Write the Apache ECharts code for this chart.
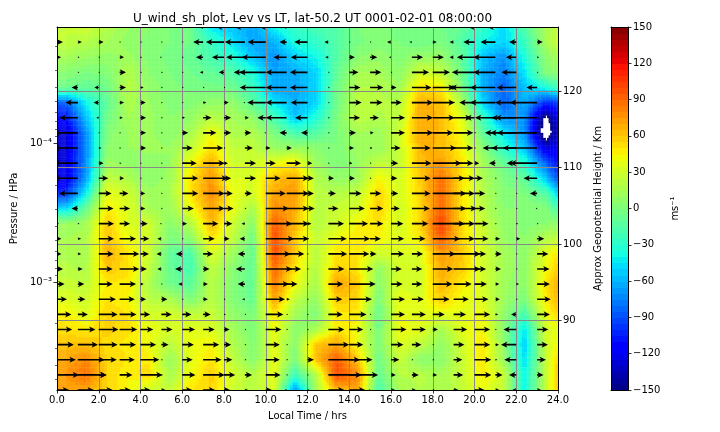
<!DOCTYPE html>
<html><head><meta charset="utf-8">
<style>html,body{margin:0;padding:0;background:#fff}#c{width:720px;height:432px}</style>
<script src="https://cdn.jsdelivr.net/npm/echarts@6/dist/echarts.min.js"></script>
</head><body><div id="c"></div>
<script>
const arrowHours = [0,1,2,3,4,5,6,7,8,9,10,11,12,13,14,15,16,17,18,19,20,21,22,23];
const shadeHours = [0,0.4,1.4,2.4,3.4,4.4,5.4,6.4,7.4,8.4,9.4,10.4,11.4,12.4,13.4,14.4,15.4,16.4,17.4,18.4,19.4,20.4,21.4,22.4,23.4,24];
const pressureLevels = [1.464e-5,1.880e-5,2.416e-5,3.105e-5,3.989e-5,5.124e-5,6.584e-5,8.459e-5,1.087e-4,1.397e-4,1.795e-4,2.306e-4,2.963e-4,3.807e-4,4.891e-4,6.285e-4,8.075e-4,1.037e-3,1.333e-3,1.713e-3,2.200e-3,2.827e-3,3.632e-3,4.667e-3,5.996e-3];
const majorPressureTicks = [1e-4,1e-3];
const minorPressureTicks = [2e-5,3e-5,4e-5,5e-5,6e-5,7e-5,8e-5,9e-5,2e-4,3e-4,4e-4,5e-4,6e-4,7e-4,8e-4,9e-4,2e-3,3e-3,4e-3,5e-3];
const heightTicks = [120,110,100,90];
const heightTickPressures = [4.25e-5,1.49e-4,5.36e-4,1.89e-3];
const colourbarLevels = [-150,-145,-140,-135,-130,-125,-120,-115,-110,-105,-100,-95,-90,-85,-80,-75,-70,-65,-60,-55,-50,-45,-40,-35,-30,-25,-20,-15,-10,-5,0,5,10,15,20,25,30,35,40,45,50,55,60,65,70,75,80,85,90,95,100,105,110,115,120,125,130,135,140,145];
// shaded zonal wind (m/s), one row per pressure level, one entry per shadeHours node after the left edge
const shadedWind = [
[25,30,20,10,5,0,-5,-45,-55,-65,-40,-25,-20,-15,0,5,-5,0,-5,-10,-25,-50,-15,15,25],
[25,20,15,8,3,0,-5,-25,-45,-65,-60,-35,-28,-15,-2,3,0,-5,0,-15,-40,-50,-25,15,28],
[15,10,8,12,3,-2,-8,-20,-32,-55,-70,-50,-40,-15,5,8,3,10,10,-10,-55,-70,-35,5,15],
[5,0,2,20,5,0,-5,-10,-15,-35,-65,-62,-50,-10,15,15,5,30,25,-5,-60,-75,-45,3,5],
[-5,-10,-5,22,8,2,-2,-3,-5,-25,-65,-65,-50,-5,20,20,12,52,48,0,-60,-85,-55,-35,-20],
[-85,-40,-10,18,10,3,3,8,8,-12,-45,-60,-50,-5,25,22,20,68,62,18,-50,-85,-60,-100,-95],
[-110,-55,-5,15,12,5,8,22,15,8,-20,-55,-35,0,25,18,25,70,64,38,-25,-70,-70,-158,-120],
[-130,-70,3,10,12,5,15,42,18,18,0,-20,-15,0,15,12,28,70,64,42,-10,-45,-70,-172,-125],
[-130,-70,5,10,12,10,25,52,25,25,10,12,5,0,12,10,28,66,64,45,5,-30,-55,-125,-120],
[-125,-70,12,8,5,10,42,68,30,30,42,45,12,0,10,25,25,62,75,50,15,-8,-30,-85,-110],
[-125,-65,25,18,5,12,50,75,35,35,60,70,20,8,12,45,32,58,88,52,18,0,-10,-55,-90],
[-100,-40,40,30,12,15,50,80,40,32,72,75,22,20,25,55,32,55,90,50,20,3,0,-15,-50],
[-50,-8,48,35,15,12,40,72,40,15,78,70,22,28,32,58,30,52,92,52,22,5,5,3,-20],
[10,15,58,35,30,5,20,65,30,5,95,65,20,30,45,50,32,55,105,52,28,8,3,5,8],
[15,18,62,40,32,0,5,50,25,-5,100,60,25,42,50,45,35,48,95,55,30,10,5,20,25],
[18,15,68,50,30,-10,-18,35,12,-8,100,58,22,50,50,30,35,35,75,60,32,15,5,38,50],
[22,18,60,52,25,-8,-20,25,5,-10,90,50,18,58,50,8,32,32,70,58,30,15,5,42,58],
[28,25,48,48,18,-5,-12,22,3,-10,85,42,15,72,60,5,35,30,65,48,32,12,5,50,68],
[35,30,50,45,22,18,0,22,3,-8,72,25,8,60,55,0,38,35,58,42,35,12,0,48,65],
[48,35,55,50,32,32,25,28,8,0,50,15,0,48,48,-8,40,38,38,38,42,8,-20,40,55],
[52,48,58,52,40,32,38,35,15,0,42,5,15,50,42,-3,42,38,15,38,45,5,-45,30,40],
[62,62,52,48,42,22,40,45,20,3,40,3,60,70,42,0,35,25,8,30,50,8,-52,30,45],
[70,80,55,50,48,10,38,50,25,3,40,0,62,95,60,-5,28,5,5,28,50,10,-48,25,55],
[75,88,55,45,55,15,42,58,32,20,40,-25,20,100,80,-8,20,22,15,28,48,28,-40,25,60],
[70,70,55,45,30,25,50,55,30,20,35,-70,15,65,70,-20,15,20,15,25,40,25,-40,25,60]
];
// wind drawn as arrows (m/s), one row per pressure level, one entry per arrowHours node
const arrowWind = [
[5,3,3,2,2,1,1,-10,-20,-25,-15,-10,-5,-2,1,2,1,1,-2,-8,-15,-20,-5,5],
[15,10,12,2,4,3,1,-25,-45,-50,-45,-18,-33,-10,2,1,-10,-6,10,-10,-28,-37,-18,14],
[10,4,3,11,4,-3,0,-18,-30,-47,-60,-33,-42,-8,14,18,-5,28,28,-10,-44,-55,-26,5],
[0,2,2,16,4,4,0,-8,-13,-28,-66,-52,-44,3,23,28,2,43,43,-3,-56,-55,-37,2],
[-5,-16,-11,16,8,3,1,1,1,-3,-65,-52,-44,2,28,33,14,49,55,-13,-60,-63,-49,-27],
[-60,-31,-13,11,13,2,3,8,12,-3,-46,-52,-42,1,31,31,27,53,55,2,-38,-63,-53,-68],
[-80,-46,-6,8,14,3,7,21,18,10,-21,-52,-31,2,27,22,35,53,55,45,-23,-51,-62,-105],
[-100,-62,1,2,14,1,15,33,18,16,-1,-18,-16,1,17,9,35,53,51,49,4,-26,-65,-100],
[-90,-62,7,3,14,3,26,50,1,20,12,13,2,1,12,6,24,47,59,49,3,-32,-62,-86],
[-85,-62,12,5,1,0,36,54,10,28,25,36,12,1,8,2,18,49,72,49,12,-16,-24,-68],
[-85,-62,24,11,2,0,40,62,18,28,37,56,16,14,14,3,16,47,80,53,21,1,0,-34],
[-65,-47,32,22,12,0,40,54,22,18,50,56,16,19,31,28,18,47,84,53,27,1,2,-18],
[-25,-16,37,26,12,1,29,54,24,1,58,56,18,25,39,33,22,45,84,58,27,1,0,-2],
[5,4,38,26,18,-2,12,38,21,-8,66,56,10,39,47,33,31,41,80,53,35,3,5,2],
[11,8,38,41,22,-10,0,29,14,-13,71,56,2,46,52,27,33,34,69,53,35,12,10,18],
[11,8,37,49,21,-12,-16,25,5,-18,62,44,2,47,50,16,33,28,57,67,29,16,0,28],
[15,12,35,49,16,-10,-18,16,1,-23,66,36,1,40,60,2,27,26,51,67,29,14,3,31],
[19,16,35,41,8,1,-10,12,1,-18,58,27,1,37,66,1,29,26,49,45,31,10,7,32],
[25,19,43,38,14,15,1,12,1,-7,48,8,1,35,56,1,35,30,42,38,35,11,2,34],
[36,25,47,42,24,26,23,19,5,1,44,2,1,36,43,1,35,35,30,31,39,7,-13,32],
[38,44,49,44,32,28,32,29,14,1,39,1,1,40,35,1,39,35,13,34,39,1,-32,28],
[42,50,47,41,39,18,29,40,18,1,35,1,3,52,35,2,31,24,1,27,39,9,-38,27],
[47,67,45,38,47,2,26,46,21,1,35,1,16,79,58,0,21,1,1,22,42,5,-30,22],
[55,71,20,32,55,0,33,54,28,18,37,3,1,83,72,0,12,17,11,24,42,18,-18,16],
[30,40,35,28,25,10,25,30,15,8,15,-5,5,40,40,-3,10,10,5,12,25,10,-10,10]
];

function ramp(t,pts){
  for(let i=1;i<pts.length;i++){ if(t<=pts[i][0]){ const a=pts[i-1],b=pts[i]; return a[1]+(b[1]-a[1])*(t-a[0])/(b[0]-a[0]); } }
  return pts[pts.length-1][1];
}
const JET_R=[[0,0],[0.35,0],[0.66,1],[0.89,1],[1,0.5]];
const JET_G=[[0,0],[0.125,0],[0.375,1],[0.64,1],[0.91,0],[1,0]];
const JET_B=[[0,0.5],[0.11,1],[0.34,1],[0.65,0],[1,0]];
function jet(v){
  const t=(v+150)/300;
  return 'rgb('+Math.round(ramp(t,JET_R)*255)+','+Math.round(ramp(t,JET_G)*255)+','+Math.round(ramp(t,JET_B)*255)+')';
}
function bandColour(v){ return jet(Math.floor(v/5)*5+2.5); }

// the left edge repeats the first column so shading reaches the axis
const shadeAt=(r,k)=>shadedWind[r][k===0?0:k-1];
const heatCells=[];
for(let r=0;r<pressureLevels.length-1;r++)for(let k=0;k<shadeHours.length-1;k++){
  heatCells.push([shadeHours[k],pressureLevels[r],shadeHours[k+1],pressureLevels[r+1],shadeAt(r,k),shadeAt(r,k+1),shadeAt(r+1,k),shadeAt(r+1,k+1)]);
}
const arrowItems=[];
for(let r=0;r<pressureLevels.length;r++)for(let c=0;c<arrowHours.length;c++)arrowItems.push([arrowHours[c],pressureLevels[r],arrowWind[r][c]]);
const colourbarItems=colourbarLevels.map(l=>[0,l,1,l+5]);

function renderHeat(params,api){
  const a=api.coord([api.value(0),api.value(1)]),b=api.coord([api.value(2),api.value(3)]);
  const v00=api.value(4),v10=api.value(5),v01=api.value(6),v11=api.value(7);
  const NX=8,NY=6,children=[];
  for(let i=0;i<NX;i++)for(let j=0;j<NY;j++){
    const fx=(i+0.5)/NX,fy=(j+0.5)/NY;
    const v=(v00*(1-fx)+v10*fx)*(1-fy)+(v01*(1-fx)+v11*fx)*fy;
    if(v<-150)continue;
    const x0=a[0]+(b[0]-a[0])*i/NX,x1=a[0]+(b[0]-a[0])*(i+1)/NX;
    const y0=a[1]+(b[1]-a[1])*j/NY,y1=a[1]+(b[1]-a[1])*(j+1)/NY;
    children.push({type:'rect',shape:{x:x0,y:y0,width:x1-x0+0.4,height:y1-y0+0.4},style:{fill:bandColour(v)},silent:true});
  }
  return {type:'group',children:children};
}
const HOUR_PER_MS=1/52;
function renderArrow(params,api){
  const u=api.value(2),h=api.value(0),p=api.value(1);
  const t=api.coord([h,p]),e=api.coord([h+u*HOUR_PER_MS,p]);
  const y=t[1],dir=u>=0?1:-1;
  let L=Math.abs(e[0]-t[0]);
  if(L<1.4)L=1.4;
  const tip=t[0]+dir*L;
  const s=Math.min(1,Math.max(L/6.4,0.3));
  const hl=Math.min(6.4,L),hw=3.1*s,th=0.85*Math.max(s,0.6);
  const neck=tip-dir*hl*0.8;
  const pts=[[t[0],y-th],[neck,y-th],[tip-dir*hl,y-hw],[tip,y],[tip-dir*hl,y+hw],[neck,y+th],[t[0],y+th]];
  return {type:'polygon',shape:{points:pts},style:{fill:'#000'},silent:true};
}
function renderBand(params,api){
  const a=api.coord([api.value(0),api.value(3)]),b=api.coord([api.value(2),api.value(1)]);
  return {type:'rect',shape:{x:a[0],y:Math.floor(a[1]),width:b[0]-a[0],height:Math.ceil(b[1])-Math.floor(a[1])},style:{fill:jet(api.value(1)+2.5)},silent:true};
}
const FONT='"DejaVu Sans"';
const lab={color:'#000',fontFamily:FONT,fontSize:10};
const axLine={show:true,onZero:false,lineStyle:{color:'#000',width:1}};
const tick={show:true,length:3.5,lineStyle:{color:'#000',width:0.8}};
const GRIDLINE={color:'#888888',width:1};
const PMIN=pressureLevels[0],PMAX=pressureLevels[pressureLevels.length-1];
const chart=echarts.init(document.getElementById('c'),null,{renderer:'canvas'});
chart.setOption({
  animation:false,backgroundColor:'#fff',
  title:{text:'U_wind_sh_plot, Lev vs LT, lat-50.2 UT 0001-02-01 08:00:00',left:307.5,top:8,textAlign:'center',
    textStyle:{fontFamily:FONT,fontSize:12,fontWeight:'normal',color:'#000'}},
  grid:[{left:57,right:162,top:27,bottom:42,outerBoundsMode:'none'},{left:611,right:92,top:27,bottom:42,outerBoundsMode:'none'}],
  xAxis:[
    {gridIndex:0,type:'value',min:0,max:24,interval:2,z:3,position:'bottom',
     name:'Local Time / hrs',nameLocation:'middle',nameGap:21,nameTextStyle:lab,
     axisLine:axLine,axisTick:tick,axisLabel:Object.assign({margin:5,formatter:v=>v.toFixed(1)},lab),
     splitLine:{show:true,lineStyle:GRIDLINE}},
    {gridIndex:0,type:'value',min:0,max:24,z:4,position:'top',axisLine:axLine,axisTick:{show:false},axisLabel:{show:false},splitLine:{show:false}},
    {gridIndex:1,type:'value',min:0,max:1,z:4,position:'bottom',axisLine:axLine,axisTick:{show:false},axisLabel:{show:false},splitLine:{show:false}},
    {gridIndex:1,type:'value',min:0,max:1,z:4,position:'top',axisLine:axLine,axisTick:{show:false},axisLabel:{show:false},splitLine:{show:false}}
  ],
  yAxis:[
    {gridIndex:0,type:'log',logBase:10,min:PMIN,max:PMAX,inverse:true,position:'left',z:4,
     name:'Pressure / HPa',nameLocation:'middle',nameGap:37,nameTextStyle:lab,
     axisLine:axLine,axisTick:Object.assign({customValues:majorPressureTicks},tick),
     axisLabel:Object.assign({customValues:majorPressureTicks,margin:5,formatter:v=>v<5e-4?'10\u207B\u2074':'10\u207B\u00B3'},lab),
     splitLine:{show:false}},
    {gridIndex:0,type:'log',logBase:10,min:PMIN,max:PMAX,inverse:true,position:'right',z:3,
     name:'Approx Geopotential Height / Km',nameLocation:'middle',nameGap:28,nameRotate:90,nameTextStyle:lab,
     axisLine:axLine,axisTick:Object.assign({customValues:heightTickPressures},tick),
     axisLabel:Object.assign({customValues:heightTickPressures,margin:5,formatter:v=>{
        let k=0,d=1e9;heightTickPressures.forEach((q,i)=>{const x=Math.abs(Math.log(q/v));if(x<d){d=x;k=i;}});return String(heightTicks[k]);}},lab),
     splitLine:{show:true,lineStyle:GRIDLINE}},
    {gridIndex:0,type:'log',logBase:10,min:PMIN,max:PMAX,inverse:true,position:'left',z:4,
     axisLine:{show:false},axisTick:{show:true,length:2,customValues:minorPressureTicks,lineStyle:{color:'#000',width:0.6}},
     axisLabel:{show:false},splitLine:{show:false}},
    {gridIndex:1,type:'value',min:-150,max:150,interval:30,position:'right',z:4,
     name:'ms\u207B\u00B9',nameLocation:'middle',nameGap:42,nameRotate:90,nameTextStyle:lab,
     axisLine:axLine,axisTick:tick,axisLabel:Object.assign({margin:5,formatter:v=>String(v).replace('-','\u2212')},lab),splitLine:{show:false}},
    {gridIndex:1,type:'value',min:-150,max:150,position:'left',z:4,axisLine:axLine,axisTick:{show:false},axisLabel:{show:false},splitLine:{show:false}}
  ],
  series:[
    {type:'custom',name:'shaded',coordinateSystem:'cartesian2d',xAxisIndex:0,yAxisIndex:0,z:1,clip:true,silent:true,progressive:0,renderItem:renderHeat,data:heatCells,encode:{x:0,y:1}},
    {type:'custom',name:'arrows',coordinateSystem:'cartesian2d',xAxisIndex:0,yAxisIndex:0,z:5,clip:true,silent:true,progressive:0,renderItem:renderArrow,data:arrowItems,encode:{x:0,y:1}},
    {type:'custom',name:'colourbar',coordinateSystem:'cartesian2d',xAxisIndex:2,yAxisIndex:3,z:1,silent:true,progressive:0,renderItem:renderBand,data:colourbarItems,encode:{x:0,y:1}}
  ]
});
</script></body></html>
